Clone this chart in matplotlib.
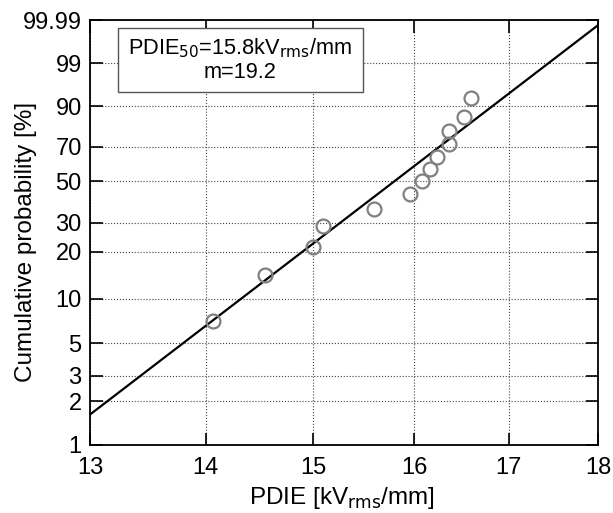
import numpy as np
import matplotlib
matplotlib.use("Agg")
import matplotlib.pyplot as plt
from matplotlib.ticker import FixedLocator, FixedFormatter, NullLocator
from matplotlib.patches import Rectangle

plt.rcParams['font.family'] = ['Liberation Sans', 'DejaVu Sans']

# breakdown field readings (kV_rms/mm) and their median-rank probabilities (%)
pdie = [14.07, 14.54, 15.00, 15.09, 15.59, 15.96, 16.08, 16.16, 16.24, 16.36, 16.36, 16.52, 16.59]
prob = [7.1, 14.3, 21.4, 28.6, 35.7, 42.9, 50.0, 57.1, 64.3, 71.4, 78.6, 85.7, 92.9]

# fitted Weibull parameters
pdie50 = 15.8
m_shape = 19.2

yticks = [1, 2, 3, 5, 10, 20, 30, 50, 70, 90, 99, 99.99]
ylabels = ['1', '2', '3', '5', '10', '20', '30', '50', '70', '90', '99', '99.99']
xticks = [13, 14, 15, 16, 17, 18]


def wb_fwd(p):
    p = np.clip(np.asarray(p, dtype=float), 1e-6, 100 - 1e-9)
    return np.log(-np.log(1 - p / 100.0))


def wb_inv(w):
    return 100.0 * (1 - np.exp(-np.exp(np.asarray(w, dtype=float))))


# fit line, F(x) = 1 - exp(-ln2 * (x/x50)^m)
xl = np.array([13.0, 18.0])
fl = 100.0 * (1 - np.exp(-np.log(2) * (xl / pdie50) ** m_shape))

fig = plt.figure(figsize=(6.13, 5.13), dpi=100)
ax = fig.add_axes([0.1468, 0.1326, 0.8287, 0.8284])
ax.set_xscale('log')
ax.set_yscale('function', functions=(wb_fwd, wb_inv))

ax.plot(xl, fl, color='black', lw=1.6, zorder=3)
ax.plot(pdie, prob, 'o', ms=10, mfc='none', mec='#808080', mew=1.6, zorder=4)

ax.set_xlim(13, 18)
ax.set_ylim(1, 99.99)
ax.xaxis.set_major_locator(FixedLocator(xticks))
ax.xaxis.set_major_formatter(FixedFormatter([str(t) for t in xticks]))
ax.xaxis.set_minor_locator(NullLocator())
ax.yaxis.set_major_locator(FixedLocator(yticks))
ax.yaxis.set_major_formatter(FixedFormatter(ylabels))
ax.yaxis.set_minor_locator(NullLocator())

ax.tick_params(direction='in', length=9, width=1.2, labelsize=17, pad=6,
               top=True, right=True)
ax.tick_params(axis='x', pad=9)
ax.grid(True, ls=':', color='#444444', lw=0.8)
for s in ax.spines.values():
    s.set_linewidth(1.3)

ax.set_xlabel('PDIE [kV$_{\\mathrm{rms}}$/mm]', fontsize=17.5)
ax.xaxis.set_label_coords(0.496, -0.095)
ax.set_ylabel('Cumulative probability [%]', fontsize=17.5)
ax.yaxis.set_label_coords(-0.104, 0.478)

ax.add_patch(Rectangle((0.055, 0.83), 0.482, 0.151, transform=ax.transAxes,
                       fc='white', ec='#555555', lw=1.0, zorder=5))
ax.text(0.296, 0.906, 'PDIE$_{\\mathrm{50}}$=15.8kV$_{\\mathrm{rms}}$/mm\nm=19.2',
        transform=ax.transAxes, ha='center', va='center', fontsize=15.7,
        linespacing=1.15, zorder=6)

fig.savefig('out.png', dpi=100)
